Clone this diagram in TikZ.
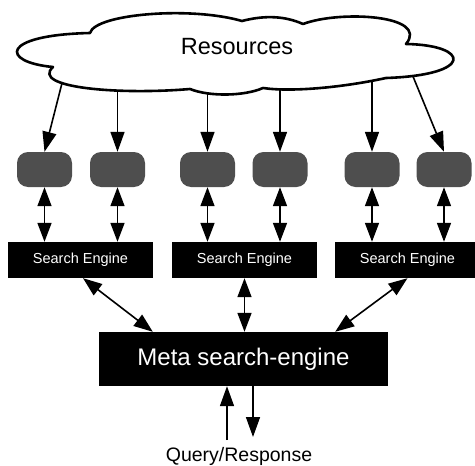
\documentclass[tikz,border=0pt]{standalone}
\usepackage{fontspec}
\setmainfont{Liberation Sans}
\usetikzlibrary{arrows.meta,calc}
\definecolor{boxgray}{RGB}{78,78,78}
\begin{document}
\begin{tikzpicture}[x=1pt,y=-1pt,
  arr/.style={line width=1.6pt,-{Triangle[length=20pt,width=14pt]}},
  darr/.style={line width=1.6pt,{Triangle[length=19pt,width=14pt]}-{Triangle[length=19pt,width=14pt]}},
  srcbox/.style={fill=boxgray,rounded corners=11pt,minimum width=55pt,minimum height=35pt,inner sep=0pt},
  sebox/.style={fill=black,text=white,minimum width=145pt,minimum height=36pt,inner sep=0pt,font=\fontsize{14.5}{16}\selectfont},
  metabox/.style={fill=black,text=white,minimum width=289pt,minimum height=54pt,inner sep=0pt,font=\fontsize{24}{28}\selectfont},
  cloudline/.style={line width=2.6pt,fill=white,line join=round}
]
\useasboundingbox (0,0) rectangle (475,466);
\clip (0,0) rectangle (475,466);

% gray resource boxes
\node[srcbox] (g1) at (44.5,169.5) {};
\node[srcbox] (g2) at (117.5,169.5) {};
\node[srcbox] (g3) at (207.5,169.5) {};
\node[srcbox] (g4) at (280,169.5) {};
\node[srcbox] (g5) at (372,169.5) {};
\node[srcbox] (g6) at (444,169.5) {};

% search engines
\node[sebox] (se1) at (80.5,260) {Search Engine};
\node[sebox] (se2) at (244.5,260) {Search Engine};
\node[sebox] (se3) at (407.5,260) {Search Engine};

% meta search engine
\node[metabox] (mse) at (243.5,359) {Meta search-engine};

% cloud anchor coordinates (inside the cloud)
\coordinate (c1) at (62.8,80);
\coordinate (c2) at (117.5,85);
\coordinate (c3) at (207.5,85);
\coordinate (c4) at (280,85);
\coordinate (c5) at (372,80);
\coordinate (c6) at (412,74);

\draw[arr] (c1) -- (g1.north);
\draw[arr] (c2) -- (g2.north);
\draw[arr] (c3) -- (g3.north);
\draw[arr] (c4) -- (g4.north);
\draw[arr] (c5) -- (g5.north);
\draw[arr] (c6) -- (g6.north);

% cloud
\draw[cloudline] (90,33)
  .. controls (95,14) and (190,6) .. (242,21)
  .. controls (265,15) and (285,16) .. (303,24)
  .. controls (340,10) and (430,15) .. (406,44)
  .. controls (470,45) and (475,75) .. (386,78)
  .. controls (340,88) and (290,92) .. (263,88)
  .. controls (245,96) and (210,97) .. (190,89)
  .. controls (120,95) and (30,88) .. (53,67)
  .. controls (0,62) and (0,35) .. (90,33) -- cycle;
\node[font=\fontsize{23.5}{28}\selectfont] (res) at (237,47) {Resources};

% resource boxes <-> search engines
\draw[darr] (g1.south) -- (g1.south |- se1.north);
\draw[darr] (g2.south) -- (g2.south |- se1.north);
\draw[darr] (g3.south) -- (g3.south |- se2.north);
\draw[darr] (g4.south) -- (g4.south |- se2.north);
\draw[darr] (g5.south) -- (g5.south |- se3.north);
\draw[darr] (g6.south) -- (g6.south |- se3.north);

% search engines <-> meta
\draw[darr] ($(se1.south)+(2.5,0)$) -- ($(mse.north west)+(54,0)$);
\draw[darr] (se2.south) -- (se2.south |- mse.north);
\draw[darr] (se3.south) -- ($(mse.north east)+(-53,0)$);

% query / response
\coordinate (qup) at (227,440);
\coordinate (qdn) at (253,437);
\draw[arr] (qup) -- (qup |- mse.south);
\draw[arr] (qdn |- mse.south) -- (qdn);
\node[anchor=base,font=\fontsize{19.5}{22}\selectfont] (qr) at (239,461) {Query/Response};
\end{tikzpicture}
\end{document}
